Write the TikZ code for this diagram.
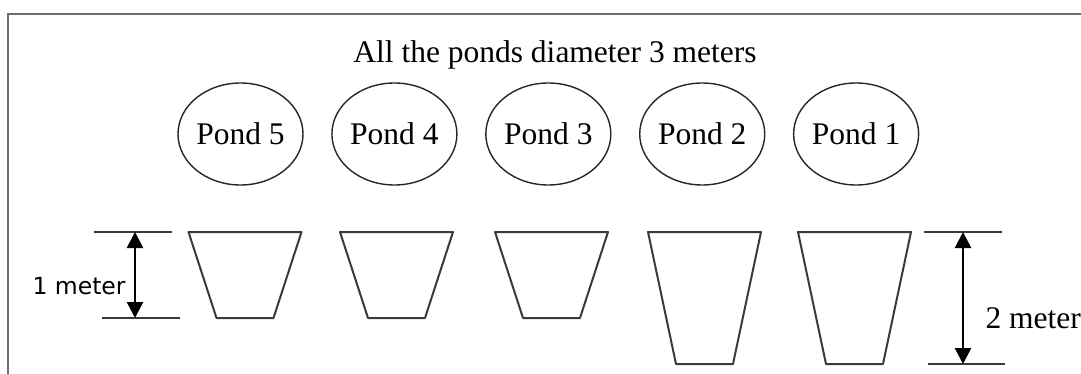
\documentclass[tikz,border=0pt]{standalone}
\usepackage{fontspec}
\setmainfont{Liberation Serif}
\newfontfamily\labelsans{DejaVu Sans}
\usepackage{tikz}
\usetikzlibrary{positioning, shapes.geometric, arrows.meta}
\definecolor{frameGrey}{HTML}{6E6E6E}
\definecolor{inkGrey}{HTML}{3A3A3A}

\begin{document}
\begin{tikzpicture}[x=1pt, y=-1pt, font=\fontsize{31.5}{36}\selectfont,
  pond/.style={draw=black!85, line width=1.4pt, ellipse, inner sep=0pt,
    minimum width=125pt, minimum height=102pt},
  basin/.style={draw=inkGrey, line width=2pt, line join=round},
  level/.style={draw=inkGrey, line width=2pt},
  dim/.style={{Triangle[width=16pt,length=16pt]}-{Triangle[width=16pt,length=16pt]},
    line width=2.5pt}]

\useasboundingbox (0,0) rectangle (1081,374);

% frame of the figure
\draw[frameGrey, line width=2pt] (8,374) -- (8,14) -- (1081,14);

\node[anchor=base] (title) at (555,63) {All the ponds diameter 3 meters};

% ponds seen from above
\node[pond] (p5) at (240.5,134) {Pond 5};
\node[pond, right=27.5pt of p5] (p4) {Pond 4};
\node[pond, right=27.5pt of p4] (p3) {Pond 3};
\node[pond, right=27.5pt of p3] (p2) {Pond 2};
\node[pond, right=27.5pt of p2] (p1) {Pond 1};

% ponds in section
\draw[basin] (188.5,232) -- (301.5,232) -- (273.5,318) -- (216.5,318) -- cycle;
\draw[basin] (340,232) -- (453,232) -- (425,318) -- (368,318) -- cycle;
\draw[basin] (495,232) -- (608,232) -- (580,318) -- (523,318) -- cycle;
\draw[basin] (648,232) -- (761,232) -- (733,364) -- (676,364) -- cycle;
\draw[basin] (798,232) -- (911,232) -- (883,364) -- (826,364) -- cycle;

% depth of ponds 3 to 5
\draw[level] (94,232) -- (172,232);
\draw[level] (102,318) -- (180,318);
\coordinate (lowTop) at (135,232);
\coordinate (lowBot) at (135,318);
\draw[dim] (lowTop) -- (lowBot);
\node[anchor=base west, font=\labelsans\fontsize{23.5}{28}\selectfont]
  (lowLabel) at (29,294) {1 meter};

% depth of ponds 1 and 2
\draw[level] (924,232) -- (1002,232);
\draw[level] (928,364) -- (1005,364);
\coordinate (deepTop) at (963,232);
\coordinate (deepBot) at (963,364);
\draw[dim] (deepTop) -- (deepBot);
\node[anchor=base west] (deepLabel) at (982,328) {2 meter};
\end{tikzpicture}
\end{document}
